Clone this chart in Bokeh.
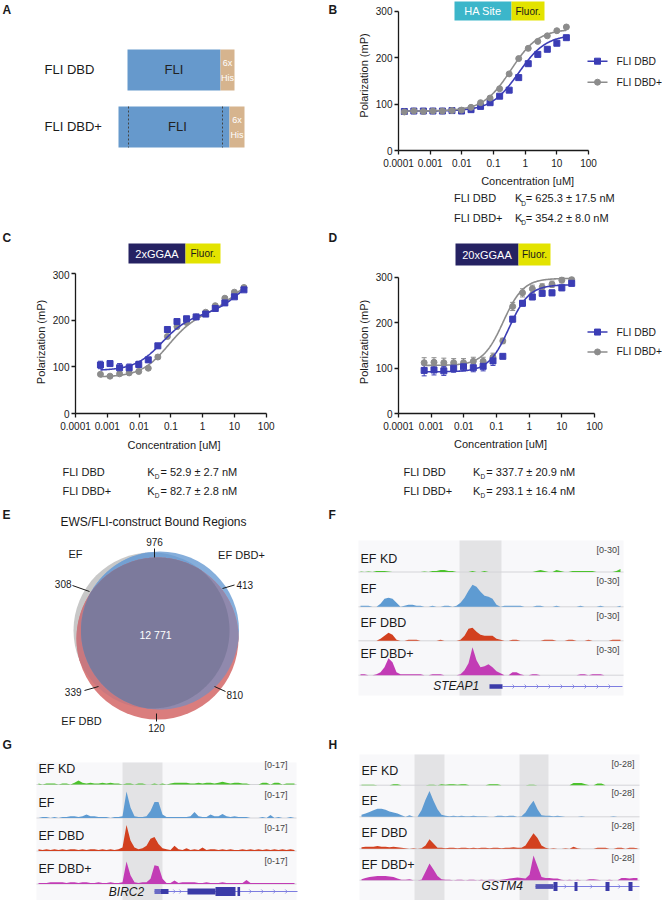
import numpy as np
from bokeh.plotting import figure
from bokeh.layouts import column, row
from bokeh.models import (Range1d, FixedTicker, CustomJSTickFormatter,
                          Whisker, TeeHead, ColumnDataSource)
from bokeh.core.properties import value
from bokeh.embed import file_html
from bokeh.resources import INLINE

FONT = "Liberation Sans"
INK = "#1a1a1a"

# ---------------- Panel A: constructs ----------------
construct_names = ["FLI DBD", "FLI DBD+"]
fli_start = [127, 118]
fli_end = [220, 229]
his_end = [234, 244]
plus_borders = [128, 222]

# ---------------- Panels B-D: fluorescence polarization ----------------
x_ticks = [0.0001, 0.001, 0.01, 0.1, 1, 10, 100]
y_ticks = [0, 100, 200, 300]
series_names = ["FLI DBD", "FLI DBD+"]

conc_b = [0.000153, 0.000305, 0.00061, 0.00122, 0.00244, 0.00488, 0.00977, 0.0195,
          0.039, 0.078, 0.156, 0.3125, 0.625, 1.25, 2.5, 5, 10, 20]
b_dbd = [84, 85, 85, 85, 85, 86, 85, 88, 95, 103, 117, 130, 157, 187, 207, 218, 231, 243]
b_dbdp = [83, 85, 84, 85, 85, 86, 87, 93, 103, 113, 133, 165, 198, 220, 235, 247, 258, 266]
b_fit_dbd = [85, 165, 0.6253, 1.0, 0, 1]
b_fit_dbdp = [85, 177, 0.3542, 1.0, 0, 1]
b_kd = ["= 625.3 \u00b1 17.5 nM", "= 354.2 \u00b1 8.0 nM"]

conc_cd = [0.00061, 0.00122, 0.00244, 0.00488, 0.00977, 0.0195, 0.039, 0.078,
           0.156, 0.3125, 0.625, 1.25, 2.5, 5, 10, 20]
c_dbd = [104, 107, 98, 98, 105, 115, 145, 180, 197, 203, 207, 213, 225, 237, 250, 265]
c_dbd_err = [8, 5, 9, 8, 7, 5, 5, 4, 4, 3, 3, 4, 3, 3, 3, 3]
c_dbdp = [84, 80, 85, 87, 90, 97, 121, 165, 186, 195, 207, 217, 231, 247, 260, 270]
c_dbdp_err = [3, 2, 3, 3, 3, 3, 4, 4, 3, 3, 3, 3, 3, 3, 3, 3]
c_fit_dbd = [92, 120, 0.0529, 1.0, 95, 15]
c_fit_dbdp = [78, 135, 0.0827, 1.0, 92, 12]
c_kd = ["= 52.9 \u00b1  2.7 nM", "= 82.7 \u00b1 2.8 nM"]

d_dbd = [95, 96, 94, 100, 103, 101, 104, 116, 126, 208, 243, 257, 265, 266, 277, 287]
d_dbd_err = [12, 11, 10, 9, 9, 9, 10, 10, 3, 6, 6, 6, 6, 6, 6, 6]
d_dbdp = [112, 113, 112, 112, 112, 115, 115, 124, 160, 236, 266, 275, 279, 285, 294, 295]
d_dbdp_err = [11, 10, 10, 9, 9, 9, 9, 9, 6, 9, 9, 8, 7, 7, 6, 5]
d_fit_dbd = [92, 192, 0.24, 1.4, 0, 1]
d_fit_dbdp = [106, 192, 0.16, 1.4, 0, 1]
d_kd = ["= 337.7 \u00b1 20.9 nM", "= 293.1 \u00b1 16.4 nM"]

# ---------------- Panel E: Venn ----------------
venn_title = "EWS/FLI-construct Bound Regions"
venn_sets = ["EF", "EF DBD+", "EF DBD"]
n_ef_only = 308
n_ef_dbdp = 976
n_dbdp_only = 413
n_all = 12771
n_dbdp_dbd = 810
n_dbd_only = 120
n_ef_dbd = 339

# ---------------- Panels F-H: genome tracks ----------------
track_names = ["EF KD", "EF", "EF DBD", "EF DBD+"]
F_KD = [0.5,0,0.5,0,1, 1,1,0.5,0,0, 0,0,0,0,0, 0,0.5,0,1,1, 2,2,1,1,0, 0,0,0,1,0,
        0,1,0,0,0, 0,0,0,0,0, 0,0,0,0,1, 2,1,0,0,2, 1,0,0,1,1, 1,1,1,1,0, 0,0,0,0,1, 3]
F_EF = [1,1,1,0,0, 3,8,9,8,4, 0,1,2,2,1, 1,0,0,1,0, 0,1,1,0,1, 4,9,16,22,20,
        15,11,10,8,2, 0,1,1,1,1, 1,0,0,0,1, 1,0,0,0,1, 0,0,0,0,0, 1,0,0,0,0, 1,0,0,0,0, 1]
F_DBD = [0,0,0,0,0, 2,5,8,6,1, 0,0,1,1,1, 0,0,0,0,0, 1,0,0,0,0, 1,5,12,13,9,
         6,5,5,5,2, 1,0,0,1,1, 0,0,0,0,0, 0,1,1,1,0, 0,0,1,1,0, 0,0,1,0,0, 0,0,0,1,1, 1]
F_DBDP = [1,1,0,0,1, 3,8,17,13,3, 1,1,1,1,1, 1,0,0,1,1, 1,0,0,0,0, 1,5,12,28,15,
          8,9,11,8,4, 2,0,0,3,3, 1,0,0,1,1, 0,0,0,0,0, 0,0,0,0,0, 1,1,0,1,1, 1,0,0,0,0, 0]
F_max = 30
F_gene = "STEAP1"
F_exons = [(32.25, 35.5, 2.2, "#3b3ba8")]
F_intron = (35.5, 65.5)
F_chev = [38.3, 41.3, 44.3, 47.3, 50.3, 53.3, 56.3, 59.3, 62.3]

G_KD = [0.5,0,0.5,0.5,0.5, 0,0.5,0.5,0,1, 2.3,1,0.5,1,0.5, 0.5,1,0.5,1,0.5,
        0.5,0,0.5,0.5,0, 0.5,0.5,0,0,0.5, 0,0.5,0,0.5,1, 1,1,1,0.5,0.5,
        1,0.5,1,1,0.5, 1,1.5,1,0.5,1, 1,0.5,0.5,0,0, 0,1,1,0,1, 1,0,0.5,0.5,0.5]
G_EF = [0,0.5,0.5,0,0.5, 0,0.5,0.5,1,1, 0.5,1,2,1,1, 0.5,0.5,0.5,0,0.5,
        0.5,1,15,6,1, 0.5,0.5,1,4,9, 9,2,0.5,0.5,0.5, 0.5,0.5,0.5,1,3.4,
        1,0.5,0.5,2,1, 1,2.3,1,0.5,1, 0.5,0.5,0.5,0,0, 0,0.5,0,1.7,0, 0.5,0,0,0.5,0]
G_DBD = [1,0.5,1,0.5,1, 0.5,1,0.5,1,1, 0.5,1,0.5,1,1, 0.5,1,0.5,1,0.5,
         1,2,14.7,6,2, 1,1.5,3,7,8, 4,1.5,1,0.5,3, 1,0.5,1.5,0.5,1,
         0.5,2,0.5,1,1, 0.5,1,0.5,1,0.5, 0.5,1,0.5,1,0.5, 1,0.5,1,0.5,1, 0.5,1,0.5,1,0.5]
G_DBDP = [0.5,0.5,0.5,1,1, 1,1,0.5,1,1, 0.5,1,1,0.5,0.5, 1,0.5,0.5,1,0.5,
          0.5,1,12.8,5,1, 0.5,1,1,3,10.6, 10,3,0.5,0.5,2, 0.5,1,1,1,1,
          0.5,0.5,1,0.5,0.5, 0.5,1,0.5,0.5,0.5, 0.5,0.5,2.3,0.5,0.5, 0.5,0.5,0.5,0.5,0.5,
          0.5,0.5,0.5,0.5,0.5]
G_max = 17
G_gene = "BIRC2"
G_exons = [(29.0, 30.5, 2.4, "#6a6ac4"), (30.5, 32.5, 2.4, "#3b3ba8"),
           (37.25, 44.25, 3.0, "#3b3ba8"), (44.25, 49.25, 4.5, "#3b3ba8"),
           (49.75, 50.4, 4.5, "#3b3ba8")]
G_intron = (29.0, 64.75)
G_chev = [34.0, 35.5, 53.0, 56.0, 59.0, 62.0]

H_KD = [0.5,0.5,0.5,0.5,0, 0,0,0,1,1, 0,0,0,0,0, 0,0,0.5,0.5,0, 1,0.5,1,1,0.5,
        1,1,0,0,0, 0,0,1,1,1, 0,0,0,0,0, 0,0,0.5,0.5,0, 0,0,0,0,0, 0,0,0,2,2,
        2,1,0,0,1.5, 1.5,0,0,0,0, 0,0,0,0,0]
H_EF = [2,3,4.5,6,7.5, 7.5,6.5,5,4,3, 1.5,0,1.5,0,0, 6,16,24,15,7, 2,1,0.5,1,0.5,
        1,0.5,0.5,1,0.5, 0.5,0.5,0,0,1, 1,0.5,1,1,0, 0.5,4,10,15,7, 1.5,1,1,0.5,1,
        0.5,0,0,0,0, 0.5,0,0,0,0, 0,0,0,0.5,0, 0,0,0,0,0]
H_DBD = [1.5,2,2,2,2.5, 2,2,1.5,2,1.5, 1,0.5,0,0.5,0, 0.5,3,9,5,1, 1,0.5,1,1,0.5,
         1,1,0.5,1,0.5, 1,1,0.5,1,1, 0.5,1,1,1.5,1, 1,3,9,14.6,10, 3,1,0,0.5,0,
         0,0.5,0,2,0.5, 0,0,0,0,1, 1,1,0,0,1, 1,0,1,1,0.5]
H_DBDP = [1,2,3,3.5,4, 4,4,3.5,3,1.5, 0.5,0.5,1,0,0, 0.5,8,15.5,10,4, 1,0.5,0.5,0,0.5,
          0.5,0,0.5,0.5,0, 0.5,0,0.5,0.5,0, 0.5,1,1.5,2,2.5, 2,1.5,5,23,13,
          3,2,2,1.5,1.5, 0.5,0,0.5,0,0.5, 0,0,1,1,0.5, 0,0,0.5,0,0, 2,2,1.5,2,2]
H_max = 28
H_gene = "GSTM4"
H_exons = [(43.5, 48.0, 2.4, "#5555b5"), (48.0, 49.0, 4.5, "#3b3ba8"),
           (53.25, 54.0, 4.5, "#3b3ba8"), (61.0, 62.0, 4.5, "#3b3ba8"),
           (66.75, 67.75, 4.5, "#3b3ba8")]
H_intron = (43.5, 69.5)
H_chev = [51.0, 57.5, 64.5]

# ---------------- styles ----------------
BLUE = "#3b3db5"
GREY = "#8c8c8c"
TEAL = "#3cb6ca"
YEL = "#e3e300"
NAVY = "#252262"
TRACK_COLORS = ["#4cc22c", "#5e9bd2", "#d2401f", "#c23cb5"]
TRACK_PX = 30.0
BIN = 4.0
LW = 338   # left column width
RW = 324   # right column width
LETTER_X_RIGHT = 328


def base_fig(w, h, **kw):
    p = figure(width=w, height=h, output_backend="svg", toolbar_location=None,
               title=None, **kw)
    p.background_fill_color = "white"
    p.border_fill_color = "white"
    p.outline_line_color = None
    return p


def canvas(x0, y0, w, h):
    return base_fig(w, h, x_range=Range1d(x0, x0 + w), y_range=Range1d(y0 + h, y0),
                    x_axis_type=None, y_axis_type=None, min_border=0)


def txt(p, x, y, s, size=11, align="left", color=INK, style="normal"):
    p.text(x=[x], y=[y], text=[s], text_font=value(FONT), text_font_size=f"{size}px",
           text_align=align, text_baseline="middle", text_color=color,
           text_font_style=style)


def letter(p, x, y, s):
    txt(p, x, y, s, 12, style="bold")


# ================= Row 1: A and B =================
pA = canvas(0, 0, LW, 226)
letter(pA, 2, 9, "A")
letter(pA, LETTER_X_RIGHT, 9, "B")
bar_rows = [(49, 90), (106, 147)]
for i, name in enumerate(construct_names):
    t, b = bar_rows[i]
    pA.quad(left=fli_start[i], right=fli_end[i], top=t, bottom=b,
            fill_color="#6699cc", line_color=None)
    pA.quad(left=fli_end[i], right=his_end[i], top=t, bottom=b,
            fill_color="#d6b48e", line_color=None)
    cx = (fli_end[i] + his_end[i]) / 2
    txt(pA, cx, (t + b) / 2 - 7.5, "6x", 9, "center", "white")
    txt(pA, cx, (t + b) / 2 + 7.5, "His", 9, "center", "white")
    txt(pA, 44, (t + b) / 2 - 1, name, 13)
txt(pA, 173.5, 68.5, "FLI", 13, "center", "#222222")
txt(pA, 177, 126, "FLI", 13, "center", "#222222")
for xb in plus_borders:
    pA.line([xb, xb], [106, 147], line_color="#444444", line_width=1, line_dash="2 2")


def fp_panel(x0, y0, w, h, ax_left, ax_bottom, ppd, ppm):
    fl = int(round(ax_left - x0))
    fb = int(round(y0 + h - ax_bottom))
    axl = x0 + fl
    axb = y0 + h - fb
    fw, fh = w - fl, h - fb
    p = base_fig(w, h, x_axis_type="log",
                 x_range=Range1d(1e-4, 10 ** (-4 + fw / ppd)),
                 y_range=Range1d(0, fh / ppm),
                 min_border_left=fl, min_border_bottom=fb,
                 min_border_top=0, min_border_right=0)
    p.xgrid.visible = False
    p.ygrid.visible = False
    xa, ya = p.xaxis[0], p.yaxis[0]
    xa.ticker = FixedTicker(ticks=x_ticks)
    xa.formatter = CustomJSTickFormatter(code="return tick.toString();")
    xa.bounds = (x_ticks[0], x_ticks[-1])
    ya.ticker = FixedTicker(ticks=y_ticks)
    ya.bounds = (y_ticks[0], y_ticks[-1])
    for ax in (xa, ya):
        ax.axis_line_color = INK
        ax.axis_line_width = 1.3
        ax.major_tick_line_color = INK
        ax.major_tick_line_width = 1.3
        ax.major_tick_in = 0
        ax.major_tick_out = 4
        ax.minor_tick_line_color = None
        ax.major_label_text_font = FONT
        ax.major_label_text_font_size = "10px"
        ax.major_label_text_color = INK
    xa.major_label_standoff = 4
    ya.major_label_standoff = 2
    ya.axis_label = "Polarization (mP)"
    ya.axis_label_text_font = FONT
    ya.axis_label_text_font_size = "11px"
    ya.axis_label_text_font_style = "normal"
    ya.axis_label_text_color = INK
    ya.axis_label_standoff = 3

    def X(rx):
        return 10 ** (-4 + (rx - axl) / ppd)

    def Y(ry):
        return (axb - ry) / ppm
    return p, X, Y


def fp_series(p, conc, vals, err, fit, color, marker):
    xs = np.logspace(np.log10(conc[0]), np.log10(conc[-1]), 240)
    bottom, a1, k1, n1, a2, k2 = fit
    ys = bottom + a1 * xs ** n1 / (k1 ** n1 + xs ** n1) + a2 * xs / (k2 + xs)
    p.line(xs, ys, line_color=color, line_width=1.6)
    if err is not None:
        v = np.array(vals, dtype=float)
        e = np.array(err, dtype=float)
        src = ColumnDataSource(dict(c=conc, lo=v - e, hi=v + e))
        p.add_layout(Whisker(source=src, base="c", lower="lo", upper="hi",
                             line_color=color, line_width=1,
                             upper_head=TeeHead(size=5, line_color=color, line_width=1),
                             lower_head=TeeHead(size=5, line_color=color, line_width=1)))
    p.scatter(conc, vals, marker=marker, size=6, fill_color=color, line_color=color)


def legend(p, X, Y, y1, y2):
    for yy, col, mk, nm in [(y1, BLUE, "square", series_names[0]),
                            (y2, GREY, "circle", series_names[1])]:
        p.line([X(587), X(607)], [Y(yy), Y(yy)], line_color=col, line_width=1.6)
        p.scatter([X(597)], [Y(yy)], marker=mk, size=6, fill_color=col, line_color=col)
        p.text(x=[X(616)], y=[Y(yy)], text=[nm], text_font=value(FONT),
               text_font_size="10.3px", text_baseline="middle", text_color=INK)


def header(p, l, m, r, t, b, label, color):
    p.quad(left=l, right=m, top=t, bottom=b, fill_color=color, line_color=None)
    p.quad(left=m, right=r, top=t, bottom=b, fill_color=YEL, line_color=None)
    txt(p, (l + m) / 2, (t + b) / 2, label, 11, "center", "white")
    txt(p, (m + r) / 2, (t + b) / 2, "Fluor.", 10, "center", INK)


def kd_rows(p, x_name, x_k, ys, texts):
    for yy, nm, tx in zip(ys, series_names, texts):
        txt(p, x_name, yy, nm, 11)
        txt(p, x_k, yy, "K", 11)
        txt(p, x_k + 7.5, yy + 5, "D", 6.5)
        txt(p, x_k + 13.3, yy, tx, 11)


# ---- B ----
pB, XB, YB = fp_panel(LW, 0, RW, 173, 398, 150, 31.67, 0.4643)
fp_series(pB, conc_b, b_dbd, None, b_fit_dbd, BLUE, "square")
fp_series(pB, conc_b, b_dbdp, None, b_fit_dbdp, GREY, "circle")
pB.quad(left=XB(454), right=XB(511), top=YB(1), bottom=YB(20), fill_color=TEAL, line_color=None)
pB.quad(left=XB(511), right=XB(544), top=YB(1), bottom=YB(20), fill_color=YEL, line_color=None)
pB.text(x=[XB(482.5)], y=[YB(10.5)], text=["HA Site"], text_font=value(FONT),
        text_font_size="11px", text_align="center", text_baseline="middle", text_color="white")
pB.text(x=[XB(527.5)], y=[YB(10.5)], text=["Fluor."], text_font=value(FONT),
        text_font_size="10px", text_align="center", text_baseline="middle", text_color=INK)
legend(pB, XB, YB, 60.7, 81.7)

pBb = canvas(LW, 173, RW, 53)
txt(pBb, 496.5, 180, "Concentration [uM]", 11, "center")
kd_rows(pBb, 406, 481, [197.7, 217.3], b_kd)

row1 = row(pA, column(pB, pBb))

# ================= Row 2: C and D =================
pT2 = canvas(0, 230, LW + RW, 44)
letter(pT2, 2, 241, "C")
letter(pT2, LETTER_X_RIGHT, 241, "D")
header(pT2, 128, 185, 220, 247, 267, "2xGGAA", NAVY)
header(pT2, 455, 518, 550, 247, 269, "20xGGAA", NAVY)

pC, XC, YC = fp_panel(0, 274, LW, 167, 75, 416.7, 31.78, 0.4667)
fp_series(pC, conc_cd, c_dbdp, c_dbdp_err, c_fit_dbdp, GREY, "circle")
fp_series(pC, conc_cd, c_dbd, c_dbd_err, c_fit_dbd, BLUE, "square")

pD, XD, YD = fp_panel(LW, 274, RW, 167, 398.3, 417.7, 32.67, 0.4567)
fp_series(pD, conc_cd, d_dbdp, d_dbdp_err, d_fit_dbdp, GREY, "circle")
fp_series(pD, conc_cd, d_dbd, d_dbd_err, d_fit_dbd, BLUE, "square")
legend(pD, XD, YD, 336, 356)

pB2 = canvas(0, 441, LW + RW, 61)
txt(pB2, 173.5, 448.5, "Concentration [uM]", 11, "center")
txt(pB2, 500, 447.5, "Concentration [uM]", 11, "center")
kd_rows(pB2, 62, 146.7, [475, 494.3], c_kd)
kd_rows(pB2, 403, 472.5, [475, 494.3], d_kd)

row2 = column(pT2, row(pC, pD), pB2)

# ================= Row 3: E (Venn) and F =================
pE = canvas(0, 511, LW, 237)
letter(pE, 2, 527, "E")
letter(pE, LETTER_X_RIGHT, 527, "F")
txt(pE, 153, 534, venn_title, 12, "center")
c_ef = (151.0, 643.0, 78.0)
c_dbdp = (159.5, 643.0, 79.0)
c_dbd = (157.0, 651.0, 81.0)


def region(circles, c=(155.0, 648.0), n=360):
    th = np.linspace(0, 2 * np.pi, n, endpoint=False)
    d = np.stack([np.cos(th), np.sin(th)], 1)
    t = np.full(n, np.inf)
    for (cx, cy, r) in circles:
        oc = np.array([c[0] - cx, c[1] - cy])
        b = d @ oc
        cc = oc @ oc - r * r
        t = np.minimum(t, -b + np.sqrt(b * b - cc))
    return list(c[0] + t * d[:, 0]), list(c[1] + t * d[:, 1])


for (cx, cy, r), col in [(c_ef, "#c8c8c8"), (c_dbdp, "#85aedb"), (c_dbd, "#da7d7d")]:
    pE.circle(x=[cx], y=[cy], radius=r, fill_color=col, line_color=None)
for circs, col in [((c_ef, c_dbdp), "#73a0d2"), ((c_ef, c_dbd), "#c9787f"),
                   ((c_dbdp, c_dbd), "#9089ad"), ((c_ef, c_dbdp, c_dbd), "#7c7a9c")]:
    xs, ys = region(circs)
    pE.patch(xs, ys, fill_color=col, line_color=None)


def num(n):
    return f"{n:,}".replace(",", " ")


txt(pE, 155, 647, num(n_all), 10.5, "center", "white")
txt(pE, 154, 554, num(n_ef_dbdp), 10, "center")
pE.line([154, 154], [561, 570], line_color=INK, line_width=1)
txt(pE, 71, 596.5, num(n_ef_only), 10, "right")
pE.line([72, 89], [598, 604], line_color=INK, line_width=1)
txt(pE, 236, 597, num(n_dbdp_only), 10, "left")
pE.line([222, 234], [601, 597.5], line_color=INK, line_width=1)
txt(pE, 81, 704, num(n_ef_dbd), 10, "right")
pE.line([84, 98], [703, 699], line_color=INK, line_width=1)
txt(pE, 226, 707, num(n_dbdp_dbd), 10, "left")
pE.line([214, 225], [699, 704], line_color=INK, line_width=1)
txt(pE, 156, 740, num(n_dbd_only), 10, "center")
pE.line([156, 156], [726, 734], line_color=INK, line_width=1)
txt(pE, 75, 566, venn_sets[0], 11, "center")
txt(pE, 241, 567, venn_sets[1], 11, "center")
txt(pE, 81, 733, venn_sets[2], 11, "center")


# ================= Track panels =================
def track_panel(x0, y0, w, h, area, xb0, hls, bases, lab_x, lab_ys,
                br_x, br_ys, vmax, series, gene, gene_xy, gene_y, exons, intron, chev):
    p = canvas(x0, y0, w, h)
    al, ar, at, ab = area
    rngs = {}
    for k, b in enumerate(bases):
        rngs[f"t{k}"] = Range1d((b - (y0 + h)) * vmax / TRACK_PX, (b - y0) * vmax / TRACK_PX)
    p.extra_y_ranges = rngs
    p.extra_x_ranges = {"g": Range1d((x0 - xb0) / BIN, (x0 + w - xb0) / BIN)}
    p.quad(left=al, right=ar, top=at, bottom=ab, fill_color="#f8f8fa", line_color=None)
    for (l, r) in hls:
        p.quad(left=l, right=r, top=at, bottom=ab, fill_color="#e3e3e5", line_color=None)
    for k, (b, vals) in enumerate(zip(bases, series)):
        p.line([al, ar], [b, b], line_color="#d4d4d8", line_width=1)
        bins = list(range(len(vals)))
        p.varea(x=bins, y1=[0] * len(vals), y2=vals, fill_color=TRACK_COLORS[k],
                x_range_name="g", y_range_name=f"t{k}")
        txt(p, lab_x, lab_ys[k], track_names[k], 12.5)
        txt(p, br_x, br_ys[k], f"[0-{vmax}]", 9, "right", "#444444")
    p.line([intron[0], intron[1]], [gene_y, gene_y], line_color="#7d7de0", line_width=1,
           x_range_name="g")
    for (u0, u1, hh, col) in exons:
        p.quad(left=u0, right=u1, top=gene_y - hh, bottom=gene_y + hh, fill_color=col,
               line_color=None, x_range_name="g")
    p.multi_line(xs=[[u - 0.3, u + 0.2, u - 0.3] for u in chev],
                 ys=[[gene_y - 2, gene_y, gene_y + 2] for _ in chev],
                 line_color="#7d7de0", line_width=0.8, x_range_name="g")
    txt(p, gene_xy[0], gene_xy[1], gene, 12, "center", INK, "italic")
    return p


pF = track_panel(LW, 511, RW, 237, (358, 623, 553, 708), 360, [(459, 501)],
                 [584.5, 619.3, 653.3, 687.7], 360, [571.7, 601.7, 635, 666.5],
                 619, [562.5, 593.5, 628, 662], F_max, [F_KD, F_EF, F_DBD, F_DBDP],
                 F_gene, (455.7, 698), 699, F_exons, F_intron, F_chev)
row3 = row(pE, pF)

pG = track_panel(0, 748, LW, 165, (36, 296, 775, 913), 38, [(122, 162)],
                 [797, 830.5, 863.5, 896.5], 38, [781.5, 815.5, 848.5, 881.5],
                 287, [777, 807, 840, 873.5], G_max, [G_KD, G_EF, G_DBD, G_DBDP],
                 G_gene, (126, 904), 904, G_exons, G_intron, G_chev)
letter(pG, 2, 757, "G")
letter(pG, LETTER_X_RIGHT, 757, "H")

pH = track_panel(LW, 748, RW, 165, (359, 639, 767, 913), 361,
                 [(414, 444), (519, 548)], [797.7, 829.3, 861.3, 892.7], 361,
                 [783.5, 813.7, 845.5, 877.5], 634, [776.5, 805.5, 838, 870.5],
                 H_max, [H_KD, H_EF, H_DBD, H_DBDP], H_gene, (501.7, 898.7), 899,
                 H_exons, H_intron, H_chev)
row4 = row(pG, pH)

layout = column(row1, row2, row3, row4)
open("out.html", "w").write(file_html(layout, INLINE))
